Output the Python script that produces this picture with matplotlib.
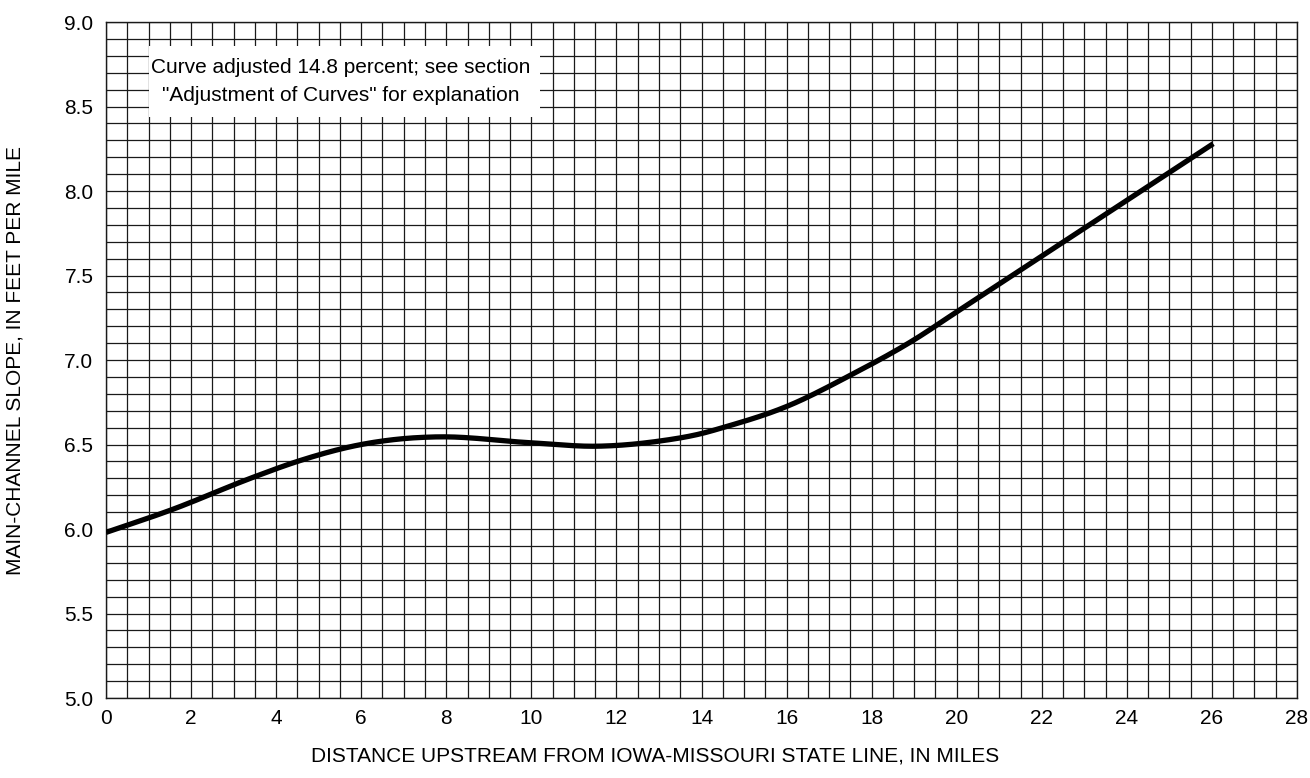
import numpy as np
import matplotlib
matplotlib.use("Agg")
from matplotlib import pyplot as plt
from matplotlib.patches import Rectangle
from matplotlib.ticker import MultipleLocator

# Values
distance_mi = [0.0, 1.5, 3.5, 4.5, 6.0, 7.0, 7.75, 10.0, 11.55, 13.0, 14.0,
               14.5, 16.0, 17.5, 19.0, 20.0, 21.0, 23.0, 26.03]
slope_ft_mi = [5.98, 6.11, 6.31, 6.40, 6.50, 6.535, 6.545, 6.51, 6.49, 6.52,
               6.565, 6.60, 6.725, 6.91, 7.12, 7.285, 7.45, 7.78, 8.28]

x_ticks = list(range(0, 29, 2))
y_ticks = [5.0, 5.5, 6.0, 6.5, 7.0, 7.5, 8.0, 8.5, 9.0]

note = 'Curve adjusted 14.8 percent; see section\n"Adjustment of Curves" for explanation'
x_label = "DISTANCE UPSTREAM FROM IOWA-MISSOURI STATE LINE, IN MILES"
y_label = "MAIN-CHANNEL SLOPE, IN FEET PER MILE"


def smooth_curve(xp, yp, n=30):
    # Catmull-Rom style cubic Hermite through the read-off points
    xp = np.asarray(xp, float)
    yp = np.asarray(yp, float)
    m = np.gradient(yp, xp)
    xs, ys = [], []
    for i in range(len(xp) - 1):
        h = xp[i + 1] - xp[i]
        t = np.linspace(0, 1, n, endpoint=False)
        h00 = 2 * t**3 - 3 * t**2 + 1
        h10 = t**3 - 2 * t**2 + t
        h01 = -2 * t**3 + 3 * t**2
        h11 = t**3 - t**2
        xs.append(xp[i] + t * h)
        ys.append(h00 * yp[i] + h10 * h * m[i] + h01 * yp[i + 1] + h11 * h * m[i + 1])
    xs.append([xp[-1]])
    ys.append([yp[-1]])
    return np.concatenate(xs), np.concatenate(ys)


def main():
    plt.rcParams["font.family"] = ["Liberation Sans", "DejaVu Sans"]

    fig = plt.figure(figsize=(13.1, 7.78), dpi=100)
    ax = fig.add_axes([0.0809, 0.1028, 0.9092, 0.8689])

    ax.set_xlim(0, 28)
    ax.set_ylim(5.0, 9.0)
    ax.set_xticks(x_ticks)
    ax.set_yticks(y_ticks)
    ax.set_yticklabels(["%.1f" % v for v in y_ticks])
    ax.xaxis.set_minor_locator(MultipleLocator(0.5))
    ax.yaxis.set_minor_locator(MultipleLocator(0.1))

    # graph-paper grid
    ax.set_axisbelow(True)
    ax.grid(which="both", color="#1a1a1a", linewidth=0.9)
    ax.tick_params(which="both", length=0, labelsize=15)
    ax.tick_params(axis="x", pad=8)
    ax.tick_params(axis="y", pad=9)
    for sp in ax.spines.values():
        sp.set_color("#1a1a1a")
        sp.set_linewidth(1.0)

    xs, ys = smooth_curve(distance_mi, slope_ft_mi)
    ax.plot(xs, ys, color="black", linewidth=3.8, solid_capstyle="butt", zorder=4)

    # note box covering the grid
    ax.add_patch(Rectangle((1.0, 8.44), 9.2, 0.42, facecolor="white",
                           edgecolor="none", zorder=3))
    ax.text(5.52, 8.65, note, ha="center", va="center", multialignment="center",
            fontsize=15, linespacing=1.6, zorder=5)

    ax.set_xlabel(x_label, fontsize=15)
    ax.set_ylabel(y_label, fontsize=15)
    ax.xaxis.set_label_coords(0.461, -0.072)
    ax.yaxis.set_label_coords(-0.068, 0.5)

    fig.savefig("out.png", dpi=100)


if __name__ == "__main__":
    main()
